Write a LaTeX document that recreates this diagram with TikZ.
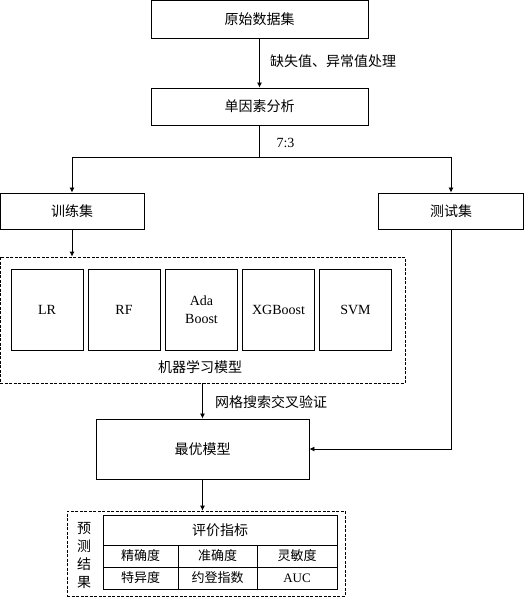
\documentclass[tikz,border=0pt]{standalone}
\usepackage{fontspec}
\setmainfont{Liberation Serif}
\newfontfamily\zh{Noto Sans CJK SC}
\newcommand\zhsize{\zh\fontsize{14pt}{17pt}\selectfont}
\usetikzlibrary{arrows.meta,positioning}

\tikzset{
  box/.style={draw, line width=0.9pt, inner sep=0pt, align=center},
  zhbox/.style={box, font=\zhsize},
  dbox/.style={draw, dash pattern=on 3pt off 1.5pt, line width=0.8pt, inner sep=0pt},
  cell/.style={draw, line width=0.8pt, inner sep=0pt, font=\zh\fontsize{13pt}{15pt}\selectfont},
  lbl/.style={font=\zhsize, inner sep=0pt},
  flow/.style={line width=0.8pt, -{Latex[length=5pt,width=5pt]}},
}

\begin{document}
\begin{tikzpicture}[x=1pt, y=-1pt, font=\fontsize{14pt}{17pt}\selectfont]
    \useasboundingbox (0,0) rectangle (524,600);
    % top part
    \node[zhbox, minimum width=217pt, minimum height=38pt] (raw) at (259.5,19) {原始数据集};
    \node[zhbox, minimum width=217pt, minimum height=37pt] (single) at (259.5,106.5) {单因素分析};
    \node[lbl, anchor=west] (clean) at (270,61) {缺失值、异常值处理};
    \node[inner sep=0pt] (ratio) at (285.5,143) {7:3};
    \coordinate (split) at (259.5,157);
    \node[zhbox, minimum width=144pt, minimum height=36pt] (train) at (72,211) {训练集};
    \node[zhbox, minimum width=145pt, minimum height=36pt] (test) at (451,211) {测试集};

    % models
    \node[dbox, minimum width=405pt, minimum height=126pt] (ml) at (202.5,320) {};
    \node[box, minimum width=72pt, minimum height=81pt] (lr) at (47,309.5) {LR};
    \node[box, minimum width=72pt, minimum height=81pt] (rf) at (124,309.5) {RF};
    \node[box, minimum width=72pt, minimum height=81pt, font=\fontsize{14pt}{18pt}\selectfont] (ada) at (201.5,309.5) {Ada\\Boost};
    \node[box, minimum width=72pt, minimum height=81pt] (xgb) at (278.5,309.5) {XGBoost};
    \node[box, minimum width=72pt, minimum height=81pt] (svm) at (355.5,309.5) {SVM};
    \node[lbl] (mlname) at (200,367) {机器学习模型};
    \node[lbl, anchor=west] (grid) at (215,402) {网格搜索交叉验证};
    \node[zhbox, minimum width=213pt, minimum height=60pt] (best) at (202.5,449) {最优模型};

    % results
    \node[dbox, minimum width=278pt, minimum height=85pt] (res) at (206,553.5) {};
    \node[lbl, align=center, font=\zh\fontsize{14pt}{18pt}\selectfont] (pred) at (84,555) {预\\测\\结\\果};
    \node[cell, minimum width=234pt, minimum height=30pt, font=\zhsize] (head) at (220,530) {评价指标};
    \node[cell, minimum width=75pt, minimum height=22pt] (c11) at (140.5,556) {精确度};
    \node[cell, minimum width=79pt, minimum height=22pt] (c12) at (217.5,556) {准确度};
    \node[cell, minimum width=80pt, minimum height=22pt] (c13) at (297,556) {灵敏度};
    \node[cell, minimum width=75pt, minimum height=22pt] (c21) at (140.5,578) {特异度};
    \node[cell, minimum width=79pt, minimum height=22pt] (c22) at (217.5,578) {约登指数};
    \node[cell, minimum width=80pt, minimum height=22pt, font=\fontsize{13pt}{15pt}\selectfont] (c23) at (297,578) {AUC};

    % connectors
    \draw[flow] (raw.south) -- (single.north);
    \draw[line width=0.8pt] (single.south) -- (split);
    \draw[flow] (split) -| (train.north);
    \draw[flow] (split) -| (test.north);
    \draw[flow] (train.south) -- (train.south |- ml.north);
    \draw[flow] (ml.south) -- (best.north);
    \draw[flow] (test.south) |- (best.east);
    \draw[flow] (best.south) -- (best.south |- res.north);
\end{tikzpicture}
\end{document}
